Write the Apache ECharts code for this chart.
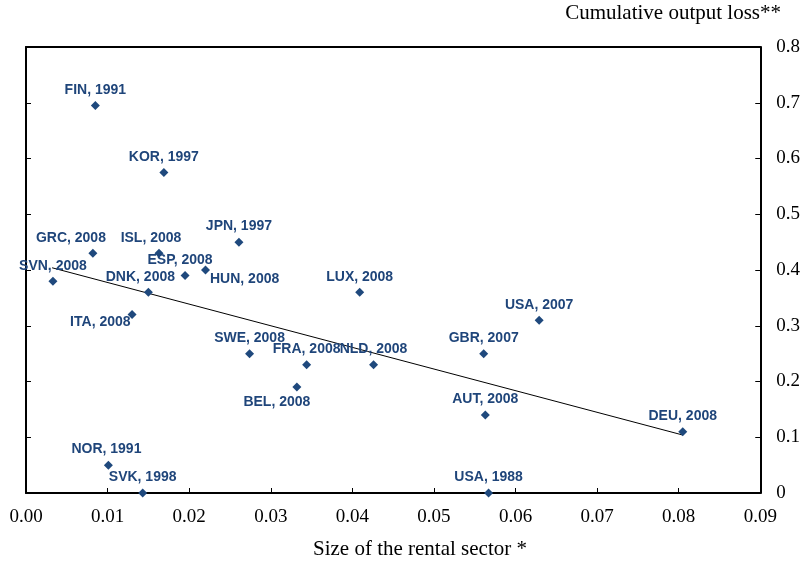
<!DOCTYPE html>
<html>
<head>
<meta charset="utf-8">
<script src="https://cdn.jsdelivr.net/npm/echarts@6/dist/echarts.min.js"></script>
<style>
html,body{margin:0;padding:0;background:#fff;}
#chart{width:803px;height:564px;}
</style>
</head>
<body>
<div id="chart"></div>
<script>
// Data
var names = ["FIN, 1991","KOR, 1997","GRC, 2008","ISL, 2008","JPN, 1997","ESP, 2008","HUN, 2008","SVN, 2008","DNK, 2008","ITA, 2008","LUX, 2008","USA, 2007","GBR, 2007","SWE, 2008","FRA, 2008","NLD, 2008","BEL, 2008","AUT, 2008","DEU, 2008","NOR, 1991","SVK, 1998","USA, 1988"];
var rentalSize = [0.0085,0.0169,0.0082,0.0163,0.0261,0.0195,0.0220,0.0033,0.0150,0.0130,0.0409,0.0629,0.0561,0.0274,0.0344,0.0426,0.0332,0.0563,0.0805,0.0101,0.0143,0.0567];
var outputLoss = [0.695,0.575,0.43,0.43,0.45,0.39,0.40,0.38,0.36,0.32,0.36,0.31,0.25,0.25,0.23,0.23,0.19,0.14,0.11,0.05,0.0,0.0];
var trendX = [0.0032,0.0805];
var trendY = [0.404,0.104];
var xTicks = ["0.00","0.01","0.02","0.03","0.04","0.05","0.06","0.07","0.08","0.09"];
var yTicks = ["0","0.1","0.2","0.3","0.4","0.5","0.6","0.7","0.8"];
var xTitle = "Size of the rental sector *";
var yTitle = "Cumulative output loss**";

// Label placement styles (per name)
var labelStyle = {
  "GRC, 2008": {offset:[-22,0]},
  "ISL, 2008": {offset:[-8,0]},
  "ESP, 2008": {offset:[-5,0]},
  "HUN, 2008": {position:"right", distance:0, offset:[0,9]},
  "DNK, 2008": {offset:[-8,0]},
  "ITA, 2008": {position:"left", distance:0, offset:[3,8]},
  "BEL, 2008": {position:"bottom", offset:[-20,0]},
  "NOR, 1991": {offset:[-2,0]}
};

var pts = names.map(function(n,i){
  var item = {name:n, value:[rentalSize[i], outputLoss[i]]};
  if (labelStyle[n]) item.label = labelStyle[n];
  return item;
});
var trend = trendX.map(function(x,i){return [x, trendY[i]];});

var serif = "'Liberation Serif','Times New Roman',serif";
var sans = "'Liberation Sans',Arial,sans-serif";

var chart = echarts.init(document.getElementById('chart'), null, {renderer:'canvas'});
chart.setOption({
  animation:false,
  backgroundColor:'#fff',
  title:[
    {text:yTitle, right:22, top:3, padding:0, textStyle:{fontFamily:serif, fontSize:21, fontWeight:'normal', color:'#000'}},
    {text:xTitle, left:313, top:539, padding:0, textStyle:{fontFamily:serif, fontSize:21, fontWeight:'normal', color:'#000'}}
  ],
  grid:{left:26, right:40, top:47, bottom:71, show:false},
  xAxis:[{
    type:'value', min:0, max:0.09, interval:0.01, position:'bottom',
    axisLine:{show:true, lineStyle:{color:'#000', width:2}},
    axisTick:{show:true, inside:true, length:5, lineStyle:{color:'#000', width:1}},
    axisLabel:{margin:15, fontFamily:serif, fontSize:19, color:'#000', formatter:function(v){return xTicks[Math.round(v/0.01)];}},
    splitLine:{show:false}
  },{
    type:'value', min:0, max:0.09, interval:0.01, position:'top',
    axisLine:{show:true, onZero:false, lineStyle:{color:'#000', width:2}},
    axisTick:{show:false}, axisLabel:{show:false}, splitLine:{show:false}
  }],
  yAxis:[{
    type:'value', min:0, max:0.8, interval:0.1, position:'right',
    axisLine:{show:true, onZero:false, lineStyle:{color:'#000', width:2}},
    axisTick:{show:true, inside:true, length:5, lineStyle:{color:'#000', width:1}},
    axisLabel:{margin:16, fontFamily:serif, fontSize:19, color:'#000', formatter:function(v){return yTicks[Math.round(v/0.1)];}},
    splitLine:{show:false}
  },{
    type:'value', min:0, max:0.8, interval:0.1, position:'left',
    axisLine:{show:true, onZero:false, lineStyle:{color:'#000', width:2}},
    axisTick:{show:true, inside:true, length:5, lineStyle:{color:'#000', width:1}},
    axisLabel:{show:false}, splitLine:{show:false}
  }],
  series:[{
    type:'line', data:trend, showSymbol:false, symbol:'none',
    lineStyle:{color:'#000', width:1}, silent:true, z:1
  },{
    type:'scatter', data:pts, symbol:'diamond', symbolSize:9,
    itemStyle:{color:'#1F497D', opacity:1},
    label:{show:true, position:'top', distance:4, formatter:'{b}',
      fontFamily:sans, fontSize:14, fontWeight:'bold', color:'#1F457A'},
    z:3
  }]
});
</script>
</body>
</html>
